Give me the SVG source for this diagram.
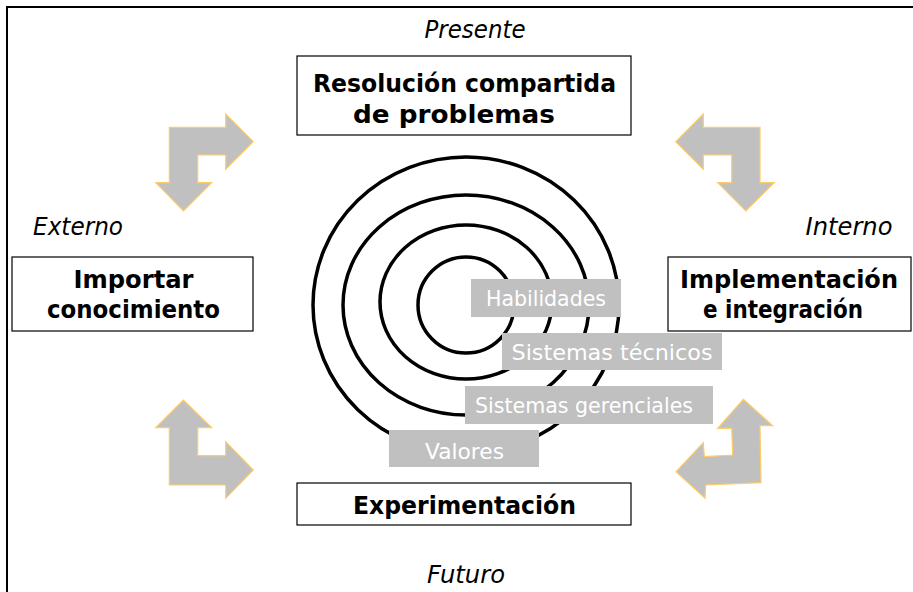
<svg xmlns="http://www.w3.org/2000/svg" width="913" height="592" viewBox="0 0 913 592">
<style>
.box{fill:#fff;stroke:#000;stroke-width:1.2}
.nt{font-family:"DejaVu Sans","Liberation Sans",sans-serif;font-weight:bold;font-size:25px;fill:#000;text-anchor:middle}
.it{font-family:"DejaVu Sans","Liberation Sans",sans-serif;font-style:italic;font-size:24px;fill:#000;text-anchor:middle}
.lb{fill:#c0c0c0}
.lt{font-family:"DejaVu Sans","Liberation Sans",sans-serif;font-size:22px;fill:#fff;text-anchor:middle}
.ring{fill:none;stroke:#000;stroke-width:3.5}
.arr{fill:#c0c0c0;stroke:#ffcc66;stroke-width:1.2;stroke-linejoin:miter}
</style>
<rect width="913" height="592" fill="#fff"/>
<path d="M7,592 V7 H913" fill="none" stroke="#000" stroke-width="2"/>
<g id="labels">
<text class="it" x="475" y="38" textLength="101" lengthAdjust="spacingAndGlyphs">Presente</text>
<text class="it" x="78" y="235" textLength="90" lengthAdjust="spacingAndGlyphs">Externo</text>
<text class="it" x="849" y="235" textLength="87" lengthAdjust="spacingAndGlyphs">Interno</text>
<text class="it" x="466" y="583" textLength="78" lengthAdjust="spacingAndGlyphs">Futuro</text>
</g>
<g id="connectors">
<polygon class="arr" points="169.3,127.3 225.7,127.3 225.7,114 253.3,141.7 225.7,169.3 225.7,155 197.7,155 197.7,182.7 211.7,182.7 183.5,211 155.7,182.7 169.3,182.7"/>
<polygon class="arr" points="760,127.3 703.3,127.3 703.3,114 675.7,141.7 703.3,169.3 703.3,155 731.7,155 731.7,182.7 717.7,182.7 745.8,211 774.3,182.7 760,182.7"/>
<polygon class="arr" points="183.3,400 211.7,427.7 197.7,427.7 197.7,455.7 225.7,455.7 225.7,441.7 253.3,470 225.7,498.3 225.7,485 169.3,485 169.3,427.7 155.7,427.7"/>
<polygon class="arr" points="743.3,399.3 772.7,425.7 760,425.7 761,482.7 705.7,485 705,498.3 676,471.7 703.3,442.7 704.3,456.7 732.7,455 731.7,428.3 717.7,428.3"/>
</g>
<g id="rings">
<ellipse class="ring" cx="466" cy="305" rx="153" ry="148"/>
<ellipse class="ring" cx="466" cy="305" rx="123" ry="110"/>
<ellipse class="ring" cx="466" cy="302" rx="86" ry="77"/>
<ellipse class="ring" cx="466" cy="305" rx="48" ry="48"/>
</g>
<g id="habilidades">
<rect class="lb" x="471" y="279" width="150" height="38"/>
<text class="lt" x="546" y="306" textLength="120" lengthAdjust="spacingAndGlyphs">Habilidades</text>
</g>
<g id="sistemas-tecnicos">
<rect class="lb" x="502" y="333" width="220" height="37"/>
<text class="lt" x="612" y="360" textLength="201" lengthAdjust="spacingAndGlyphs">Sistemas técnicos</text>
</g>
<g id="sistemas-gerenciales">
<rect class="lb" x="465" y="386" width="248" height="38"/>
<text class="lt" x="584" y="413" textLength="218" lengthAdjust="spacingAndGlyphs">Sistemas gerenciales</text>
</g>
<g id="valores">
<rect class="lb" x="389" y="430" width="150" height="37"/>
<text class="lt" x="464.5" y="459" textLength="79" lengthAdjust="spacingAndGlyphs">Valores</text>
</g>
<g id="resolucion">
<rect class="box" x="297" y="56" width="334" height="79"/>
<text class="nt" x="464.5" y="92" textLength="303" lengthAdjust="spacingAndGlyphs">Resolución compartida</text>
<text class="nt" x="454" y="123" textLength="202" lengthAdjust="spacingAndGlyphs">de problemas</text>
</g>
<g id="importar">
<rect class="box" x="12" y="257" width="241" height="74"/>
<text class="nt" x="133.5" y="288" textLength="120" lengthAdjust="spacingAndGlyphs">Importar</text>
<text class="nt" x="133.5" y="318" textLength="173" lengthAdjust="spacingAndGlyphs">conocimiento</text>
</g>
<g id="implementacion">
<rect class="box" x="668" y="257" width="243" height="74"/>
<text class="nt" x="789" y="288" textLength="218" lengthAdjust="spacingAndGlyphs">Implementación</text>
<text class="nt" x="783" y="318" textLength="160" lengthAdjust="spacingAndGlyphs">e integración</text>
</g>
<g id="experimentacion">
<rect class="box" x="297" y="483" width="334" height="42"/>
<text class="nt" x="464.5" y="514" textLength="223" lengthAdjust="spacingAndGlyphs">Experimentación</text>
</g>
</svg>
